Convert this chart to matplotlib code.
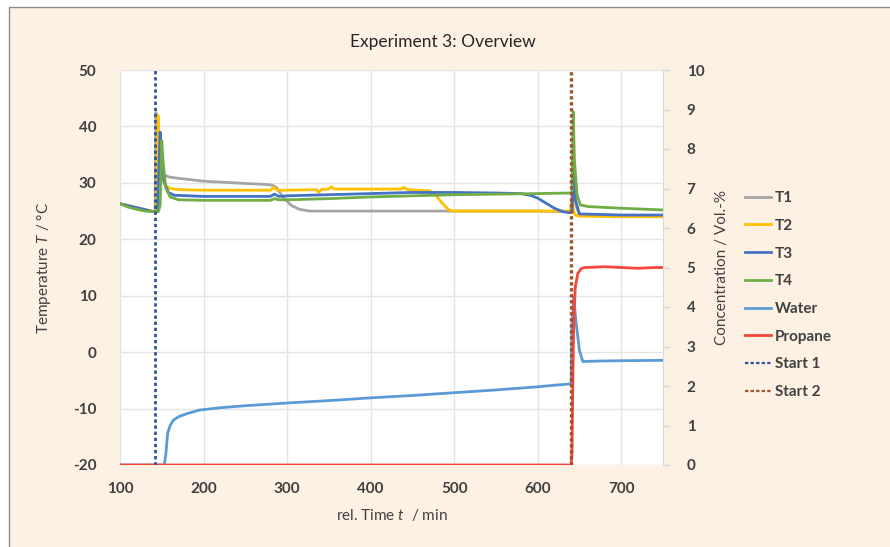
import matplotlib
matplotlib.use("Agg")
import matplotlib.pyplot as plt
from matplotlib.patches import Rectangle
from matplotlib.lines import Line2D

plt.rcParams['font.family'] = ['Lato', 'DejaVu Sans']
plt.rcParams['mathtext.fontset'] = 'custom'
plt.rcParams['mathtext.rm'] = 'Lato'
plt.rcParams['mathtext.it'] = 'Lato:italic'
plt.rcParams['axes.unicode_minus'] = False

# ---------------- data ----------------
t1_t = [100, 120, 140, 142, 143, 145, 148, 152, 156, 160, 170, 200, 250, 275, 282, 287, 295, 305, 315, 327,
        350, 400, 500, 600, 638, 641, 643, 646, 650, 700, 750]
t1_v = [26.3, 25.6, 24.9, 24.9, 42.5, 38.0, 33.0, 31.5, 31.2, 31.0, 30.8, 30.3, 29.9, 29.7, 29.6, 29.2, 27.5,
        26.0, 25.3, 25.0, 25.0, 25.0, 25.0, 25.0, 24.9, 25.5, 30.0, 26.0, 24.2, 24.1, 24.0]

t2_t = [100, 140, 143, 145.5, 147, 150, 155, 160, 170, 200, 250, 280, 284, 288, 300, 335, 338, 341, 350, 353,
        357, 400, 436, 440, 444, 470, 476, 485, 493, 498, 550, 600, 639, 641, 643, 645, 650, 700, 750]
t2_v = [26.3, 24.9, 24.9, 42.0, 36.0, 31.0, 29.5, 29.0, 28.8, 28.7, 28.7, 28.7, 29.2, 28.7, 28.7, 28.8, 28.3,
        28.8, 28.9, 29.3, 28.9, 28.9, 28.9, 29.2, 28.8, 28.6, 28.2, 26.5, 25.3, 25.0, 25.0, 25.0, 25.0, 27.5,
        25.0, 24.3, 24.1, 24.0, 24.0]

t3_t = [100, 140, 145, 148, 150, 153, 158, 165, 200, 250, 280, 285, 290, 300, 350, 400, 450, 500, 550, 580,
        591, 600, 610, 620, 630, 638, 641, 643, 645, 650, 700, 750]
t3_v = [26.3, 24.9, 24.9, 39.0, 34.0, 30.0, 28.3, 27.8, 27.6, 27.6, 27.6, 28.0, 27.6, 27.7, 27.9, 28.1, 28.3,
        28.3, 28.2, 28.1, 27.8, 27.3, 26.4, 25.5, 24.9, 24.7, 24.8, 32.0, 27.0, 24.5, 24.3, 24.3]

t4_t = [100, 110, 120, 130, 140, 146, 148, 150, 152, 155, 160, 170, 200, 250, 280, 285, 290, 300, 350, 400,
        450, 500, 550, 600, 639, 641, 642.5, 644, 647, 651, 660, 700, 750]
t4_v = [26.3, 25.7, 25.3, 25.0, 24.9, 24.9, 26.0, 37.5, 33.0, 29.0, 27.5, 27.0, 26.9, 26.9, 26.9, 27.2, 27.0,
        27.0, 27.2, 27.5, 27.7, 27.9, 28.0, 28.1, 28.2, 28.2, 42.6, 34.0, 28.0, 26.1, 25.8, 25.5, 25.2]

water_t = [100, 153, 155, 157, 160, 164, 170, 180, 195, 220, 250, 300, 350, 400, 450, 500, 550, 600, 620, 638,
           640, 641, 643, 646, 650, 654, 670, 700, 750]
water_v = [0.0, 0.0, 0.3, 0.8, 1.0, 1.14, 1.22, 1.3, 1.39, 1.45, 1.5, 1.57, 1.63, 1.7, 1.76, 1.83, 1.9, 1.98,
           2.02, 2.05, 2.05, 3.5, 4.25, 3.6, 2.9, 2.62, 2.63, 2.64, 2.65]

prop_t = [100, 640, 641, 642, 643, 645, 648, 652, 656, 660, 680, 700, 720, 740, 750]
prop_v = [0.0, 0.0, 0.3, 2.0, 3.5, 4.5, 4.85, 4.97, 5.0, 5.0, 5.02, 5.0, 4.98, 5.0, 5.0]

start1 = 142
start2 = 640

x_ticks = [100, 200, 300, 400, 500, 600, 700]
y_ticks = [-20, -10, 0, 10, 20, 30, 40, 50]
y2_ticks = [0, 1, 2, 3, 4, 5, 6, 7, 8, 9, 10]

# ---------------- figure ----------------
W, H = 890, 547
fig = plt.figure(figsize=(W / 100, H / 100), dpi=100)
fig.patch.set_facecolor('white')
bg = Rectangle((9 / W, -0.1), 1, 1.1 - 7 / H, transform=fig.transFigure, facecolor='#FDF1E4',
               edgecolor='#8C8C8C', linewidth=1.0, zorder=-10)
fig.patches.append(bg)

ax = fig.add_axes([120 / W, 1 - 465 / H, (663 - 120) / W, (465 - 70) / H])
ax.set_facecolor('white')
ax2 = ax.twinx()

lab_col = '#404040'
tick_fs = 11

ax.set_xlim(100, 750)
ax.set_ylim(-20, 50)
ax2.set_ylim(0, 10)
ax.set_xticks(x_ticks)
ax.set_yticks(y_ticks)
ax2.set_yticks(y2_ticks)
ax.grid(True, color='#E4E4E4', linewidth=1.0)
ax.set_axisbelow(True)

for a in (ax, ax2):
    for s in ('top', 'left', 'bottom'):
        a.spines[s].set_visible(False)
ax.spines['right'].set_visible(False)
ax2.spines['right'].set_color('#D9D9D9')

ax.tick_params(axis='x', length=0, pad=12, labelsize=tick_fs, labelcolor=lab_col)
ax.tick_params(axis='y', length=0, pad=17, labelsize=tick_fs, labelcolor=lab_col)
ax2.tick_params(axis='y', length=5, width=1, color='#D9D9D9', pad=12, labelsize=tick_fs, labelcolor=lab_col)
for lbl in ax.get_xticklabels() + ax.get_yticklabels() + ax2.get_yticklabels():
    lbl.set_fontweight('bold')

c_t1, c_t2, c_t3, c_t4 = '#A5A5A5', '#FFC000', '#4472C4', '#70AD47'
c_w, c_p = '#5B9BD5', '#F4473A'
c_s1, c_s2 = '#2F5597', '#A0522D'

ax.plot(t1_t, t1_v, color=c_t1, lw=2.0, zorder=3)
ax.plot(t2_t, t2_v, color=c_t2, lw=2.0, zorder=3)
ax.plot(t3_t, t3_v, color=c_t3, lw=2.0, zorder=3)
ax.plot(t4_t, t4_v, color=c_t4, lw=2.0, zorder=3)
ax2.plot(water_t, water_v, color=c_w, lw=2.0, zorder=3)
ax2.plot(prop_t, prop_v, color=c_p, lw=2.0, zorder=4)
ax2.axvline(start1, color=c_s1, lw=2.0, linestyle=(0, (1.2, 1.0)), zorder=5)
ax2.axvline(start2, color=c_s2, lw=2.4, linestyle=(0, (1.0, 0.8)), zorder=5)

ax.set_xlabel('rel. Time $t$  / min', fontsize=11, color=lab_col, labelpad=8)
ax.set_ylabel('Temperature $T$ / °C', fontsize=11, color=lab_col, labelpad=14)
ax2.set_ylabel('Concentration / Vol.-%', fontsize=11, color=lab_col, labelpad=8)

fig.text(443 / W, 1 - 42 / H, 'Experiment 3: Overview', ha='center', va='center', fontsize=12.5,
         color='#262626')

handles = [
    Line2D([], [], color=c_t1, lw=2), Line2D([], [], color=c_t2, lw=2),
    Line2D([], [], color=c_t3, lw=2), Line2D([], [], color=c_t4, lw=2),
    Line2D([], [], color=c_w, lw=2), Line2D([], [], color=c_p, lw=2),
    Line2D([], [], color=c_s1, lw=1.6, linestyle=(0, (1.5, 1.0))),
    Line2D([], [], color=c_s2, lw=1.6, linestyle=(0, (1.5, 1.0))),
]
labels = ['T1', 'T2', 'T3', 'T4', 'Water', 'Propane', 'Start 1', 'Start 2']
leg = fig.legend(handles, labels, loc='upper left', bbox_to_anchor=(745 / W, 1 - 191 / H),
                 frameon=False, fontsize=11, handlelength=1.7, handletextpad=0.25,
                 labelspacing=0.9, borderpad=0, borderaxespad=0)
for txt in leg.get_texts():
    txt.set_fontweight('bold')
    txt.set_color(lab_col)

fig.savefig('out.png', dpi=100, facecolor=fig.get_facecolor())
